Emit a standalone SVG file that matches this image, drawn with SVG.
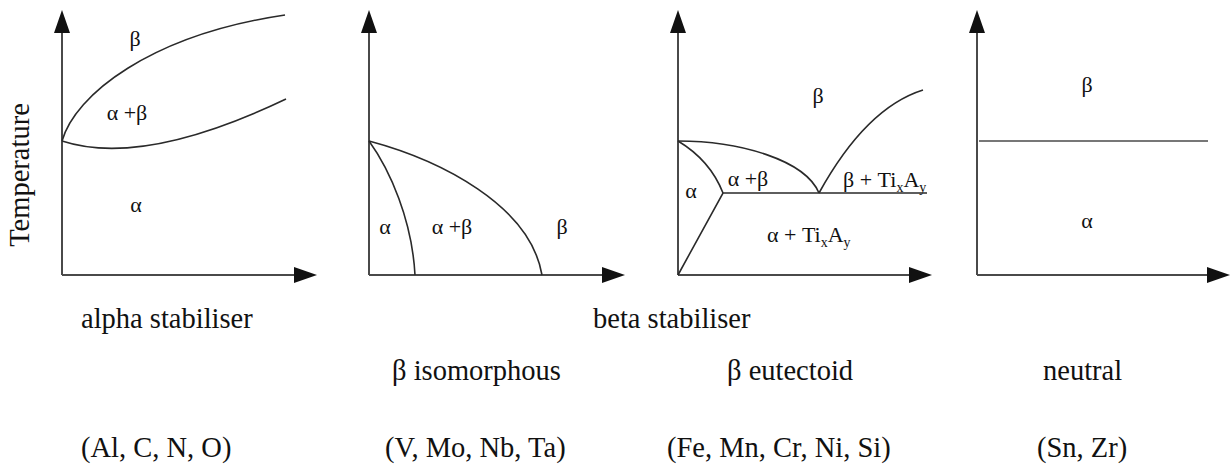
<svg xmlns="http://www.w3.org/2000/svg" width="1232" height="471" viewBox="0 0 1232 471">
<defs>
<style>
text{font-family:"Liberation Serif","Times New Roman",Times,serif;fill:#111}
.big{font-size:28.5px}
.lbl{font-size:22px;text-anchor:middle}
.lbls{font-size:22px}
.sub{font-size:14px}
.ax{stroke:#4a4a4a;stroke-width:2;fill:none}
.cv{stroke:#2a2a2a;stroke-width:1.6;fill:none}
.ah{fill:#111}
</style>
</defs>
<rect width="1232" height="471" fill="#fff"/>
<text class="big" font-family="Liberation Serif, serif" transform="translate(29,175) rotate(-90)" text-anchor="middle">Temperature</text>

<g id="panel-alpha">
<path class="ax" d="M62,275 V30 M62,275 H296"/>
<polygon class="ah" points="62,10 54,33 70,33"/>
<polygon class="ah" points="317,275 294,267 294,283"/>
<path class="cv" d="M62,141 C75,95 150,35 285,15"/>
<path class="cv" d="M62,141 C120,160 200,140 286,99"/>
<text class="lbl" x="135" y="46">β</text>
<text class="lbl" x="127" y="120">α +β</text>
<text class="lbl" x="136" y="212">α</text>
</g>

<g id="panel-iso">
<path class="ax" d="M369,275 V30 M369,275 H604"/>
<polygon class="ah" points="369,10 361,33 377,33"/>
<polygon class="ah" points="625,275 602,267 602,283"/>
<path class="cv" d="M369,141 C390,170 412,220 415,275"/>
<path class="cv" d="M369,141 C440,160 530,205 542,275"/>
<text class="lbl" x="385" y="234">α</text>
<text class="lbl" x="452" y="234">α +β</text>
<text class="lbl" x="562" y="234">β</text>
</g>

<g id="panel-eut">
<path class="ax" d="M678,275 V30 M678,275 H911"/>
<polygon class="ah" points="678,10 670,33 686,33"/>
<polygon class="ah" points="932,275 909,267 909,283"/>
<path class="cv" d="M678,141 C740,141 805,160 819,193"/>
<path class="cv" d="M678,141 C698,153 714,170 723,193"/>
<path class="cv" d="M678,275 L723,193 H927"/>
<path class="cv" d="M819,193 C840,155 875,105 923,90"/>
<text class="lbl" x="818" y="103">β</text>
<text class="lbl" x="691" y="198">α</text>
<text class="lbl" x="748" y="186">α +β</text>
<text class="lbls" x="843" y="187">β + Ti<tspan class="sub" dy="5">x</tspan><tspan dy="-5">A</tspan><tspan class="sub" dy="5">y</tspan></text>
<text class="lbls" x="767" y="242">α + Ti<tspan class="sub" dy="5">x</tspan><tspan dy="-5">A</tspan><tspan class="sub" dy="5">y</tspan></text>
</g>

<g id="panel-neutral">
<path class="ax" d="M977,275 V30 M977,275 H1209"/>
<polygon class="ah" points="977,10 969,33 985,33"/>
<polygon class="ah" points="1230,275 1207,267 1207,283"/>
<path d="M979,141 H1208" stroke="#777" stroke-width="2"/>
<text class="lbl" x="1087" y="92">β</text>
<text class="lbl" x="1087" y="228">α</text>
</g>

<g id="captions">
<text class="big" x="81" y="328">alpha stabiliser</text>
<text class="big" x="593" y="328">beta stabiliser</text>
<text class="big" x="392" y="380">β isomorphous</text>
<text class="big" x="727" y="380">β eutectoid</text>
<text class="big" x="1043" y="380">neutral</text>
<text class="big" x="81" y="457">(Al, C, N, O)</text>
<text class="big" x="385" y="457">(V, Mo, Nb, Ta)</text>
<text class="big" x="667" y="457">(Fe, Mn, Cr, Ni, Si)</text>
<text class="big" x="1037" y="457">(Sn, Zr)</text>
</g>
</svg>
